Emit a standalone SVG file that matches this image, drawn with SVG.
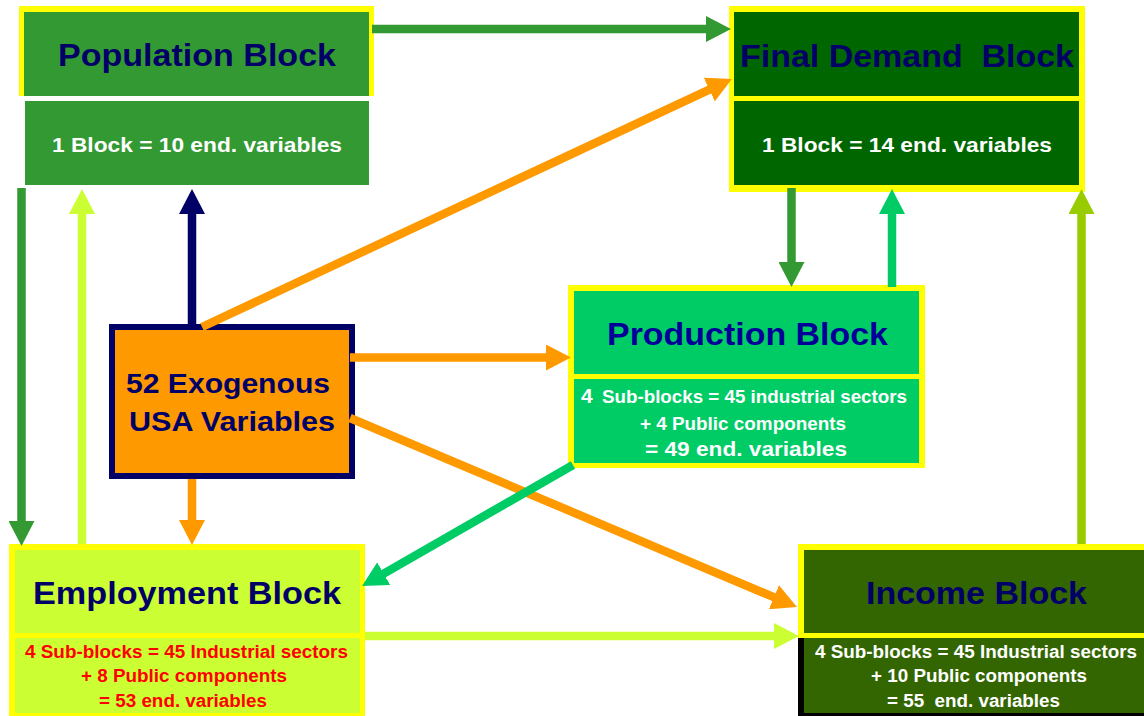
<svg xmlns="http://www.w3.org/2000/svg" width="1144" height="716" viewBox="0 0 1144 716">
<style>
text{font-family:"Liberation Sans",Arial,sans-serif;font-weight:bold}
.title{font-size:32px;fill:#000066}
.sub{font-size:17.5px}
.w{fill:#FFFFFF}
.r{fill:#FF0000}
.yel{fill:#FFFF00}
.ln{fill:none;stroke-width:8.5}
</style>
<defs>
<marker id="hG" markerUnits="userSpaceOnUse" markerWidth="26" markerHeight="26" refX="3" refY="13" orient="auto"><path d="M0,0 L25,13 L0,26 z" fill="#339933"/></marker>
<marker id="hO" markerUnits="userSpaceOnUse" markerWidth="26" markerHeight="26" refX="3" refY="13" orient="auto"><path d="M0,0 L25,13 L0,26 z" fill="#FF9900"/></marker>
<marker id="hN" markerUnits="userSpaceOnUse" markerWidth="26" markerHeight="26" refX="3" refY="13" orient="auto"><path d="M0,0 L25,13 L0,26 z" fill="#000066"/></marker>
<marker id="hL" markerUnits="userSpaceOnUse" markerWidth="26" markerHeight="26" refX="3" refY="13" orient="auto"><path d="M0,0 L25,13 L0,26 z" fill="#CCFF33"/></marker>
<marker id="hM" markerUnits="userSpaceOnUse" markerWidth="26" markerHeight="26" refX="3" refY="13" orient="auto"><path d="M0,0 L25,13 L0,26 z" fill="#00CC66"/></marker>
<marker id="hY" markerUnits="userSpaceOnUse" markerWidth="26" markerHeight="26" refX="3" refY="13" orient="auto"><path d="M0,0 L25,13 L0,26 z" fill="#99CC00"/></marker>
</defs>
<rect width="1144" height="716" fill="#FFFFFF"/>

<g id="population">
<rect class="yel" x="19" y="6" width="355" height="90"/>
<rect x="24" y="12" width="345" height="84" fill="#339933"/>
<rect x="25" y="101" width="344" height="84" fill="#339933"/>
<text class="title" x="58" y="66" textLength="278" lengthAdjust="spacingAndGlyphs">Population Block</text>
<text class="w" x="52" y="152" font-size="21" textLength="290" lengthAdjust="spacingAndGlyphs">1 Block = 10 end. variables</text>
</g>

<g id="final-demand">
<rect class="yel" x="729" y="6" width="356" height="186"/>
<rect x="734" y="12" width="345" height="84" fill="#006600"/>
<rect x="734" y="101" width="345" height="84" fill="#006600"/>
<text class="title" x="740" y="67" textLength="334" lengthAdjust="spacingAndGlyphs" xml:space="preserve">Final Demand  Block</text>
<text class="w" x="762" y="152" font-size="21" textLength="290" lengthAdjust="spacingAndGlyphs">1 Block = 14 end. variables</text>
</g>

<g id="production">
<rect class="yel" x="568" y="285" width="357" height="183"/>
<rect x="574" y="291" width="345" height="83" fill="#00CC66"/>
<rect x="574" y="379" width="345" height="84" fill="#00CC66"/>
<text class="title" x="607" y="345" textLength="281" lengthAdjust="spacingAndGlyphs" fill="#000099" style="fill:#000099">Production Block</text>
<text class="w" x="581" y="403" font-size="21">4</text>
<text class="sub w" x="602" y="403" textLength="305" lengthAdjust="spacingAndGlyphs">Sub-blocks = 45 industrial sectors</text>
<text class="sub w" x="640" y="430" textLength="206" lengthAdjust="spacingAndGlyphs">+ 4 Public components</text>
<text class="w" x="645" y="456" font-size="21" textLength="202" lengthAdjust="spacingAndGlyphs">= 49 end. variables</text>
</g>

<g id="exogenous">
<rect x="112" y="327" width="240" height="149" fill="#FF9900" stroke="#000066" stroke-width="6"/>
<text x="126" y="393" font-size="27" fill="#000066" textLength="204" lengthAdjust="spacingAndGlyphs">52 Exogenous</text>
<text x="129" y="431" font-size="27" fill="#000066" textLength="206" lengthAdjust="spacingAndGlyphs">USA Variables</text>
</g>

<g id="employment">
<rect class="yel" x="9" y="544" width="356" height="172"/>
<rect x="15" y="550" width="345" height="83" fill="#CCFF33"/>
<rect x="15" y="638" width="345" height="75" fill="#CCFF33"/>
<text class="title" x="33" y="604" textLength="308" lengthAdjust="spacingAndGlyphs">Employment Block</text>
<text class="sub r" x="25" y="658" textLength="323" lengthAdjust="spacingAndGlyphs">4 Sub-blocks = 45 Industrial sectors</text>
<text class="sub r" x="81" y="682" textLength="206" lengthAdjust="spacingAndGlyphs">+ 8 Public components</text>
<text class="sub r" x="99" y="707" textLength="168" lengthAdjust="spacingAndGlyphs">= 53 end. variables</text>
</g>

<g id="income">
<rect class="yel" x="798" y="544" width="360" height="94"/>
<rect x="804" y="550" width="350" height="83" fill="#336600"/>
<rect x="798" y="638" width="346" height="78" fill="#000000"/>
<rect x="804" y="638" width="340" height="75" fill="#336600"/>
<text class="title" x="866" y="604" textLength="221" lengthAdjust="spacingAndGlyphs">Income Block</text>
<text class="sub w" x="815" y="658" textLength="322" lengthAdjust="spacingAndGlyphs">4 Sub-blocks = 45 Industrial sectors</text>
<text class="sub w" x="871" y="682" textLength="216" lengthAdjust="spacingAndGlyphs">+ 10 Public components</text>
<text class="sub w" x="887" y="707" textLength="173" lengthAdjust="spacingAndGlyphs" xml:space="preserve">= 55  end. variables</text>
</g>

<g id="connectors">
<line class="ln" x1="372" y1="29" x2="709" y2="29" stroke="#339933" marker-end="url(#hG)"/>
<line class="ln" x1="202" y1="327" x2="712" y2="88.3" stroke="#FF9900" marker-end="url(#hO)"/>
<line class="ln" x1="192" y1="324" x2="192" y2="211" stroke="#000066" marker-end="url(#hN)"/>
<line class="ln" x1="350" y1="357.5" x2="549" y2="357.5" stroke="#FF9900" marker-end="url(#hO)"/>
<line class="ln" x1="350" y1="418" x2="776.7" y2="598.4" stroke="#FF9900" marker-end="url(#hO)"/>
<line class="ln" x1="192" y1="479" x2="192" y2="523" stroke="#FF9900" marker-end="url(#hO)"/>
<line class="ln" x1="21.5" y1="188" x2="21.5" y2="524" stroke="#339933" marker-end="url(#hG)"/>
<line class="ln" x1="82" y1="544" x2="82" y2="211" stroke="#CCFF33" marker-end="url(#hL)"/>
<line class="ln" x1="791.5" y1="188" x2="791.5" y2="265" stroke="#339933" marker-end="url(#hG)"/>
<line class="ln" x1="892" y1="287" x2="892" y2="211" stroke="#00CC66" marker-end="url(#hM)"/>
<line class="ln" x1="1081.5" y1="544" x2="1081.5" y2="211" stroke="#99CC00" marker-end="url(#hY)"/>
<line class="ln" x1="573" y1="465" x2="381.1" y2="575.1" stroke="#00CC66" marker-end="url(#hM)"/>
<line class="ln" x1="365" y1="636" x2="777" y2="636" stroke="#CCFF33" marker-end="url(#hL)"/>
</g>
</svg>
